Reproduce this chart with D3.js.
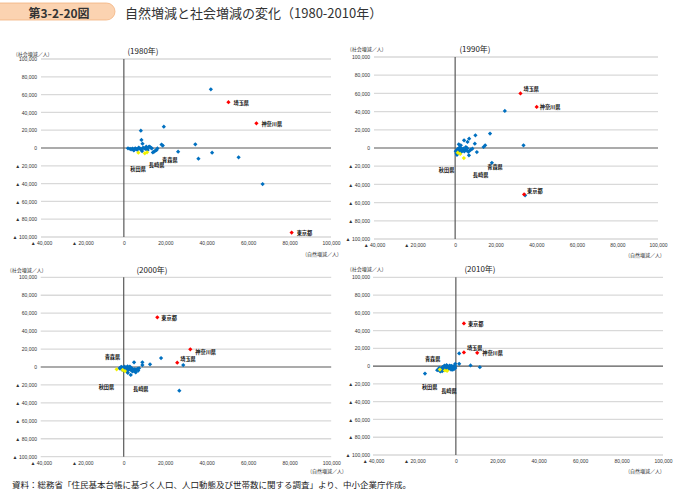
<!DOCTYPE html>
<html>
<head>
<meta charset="utf-8">
<script src="https://cdn.jsdelivr.net/npm/d3@7"></script>
<style>
  body { margin: 0; background: #fff; }
  svg { font-family: "Noto Sans CJK JP", "Noto Sans", sans-serif; }
</style>
</head>
<body>
<svg id="chart" width="674" height="489"></svg>
<script>
// ---- data (自然増減, 社会増減 / 人) ----
const years = ["(1980年)", "(1990年)", "(2000年)", "(2010年)"];
const xTicks = [-40000, -20000, 0, 20000, 40000, 60000, 80000, 100000];
const yTicks = [-100000, -80000, -60000, -40000, -20000, 0, 20000, 40000, 60000, 80000, 100000];

const blue1980 = [
  [42000,66000],[19300,24000],[8200,19500],[8500,9000],[9000,4800],[34500,4100],[18200,3900],
  [18800,2800],[26200,-4100],[36000,-12000],[42600,-5300],[55400,-10500],[67000,-40500],
  [2000,-300],[3000,-900],[3500,-1500],[4200,-700],[4800,-2800],[5500,-400],[6000,-1200],
  [6500,-2000],[7200,500],[7800,-800],[8300,-1600],[8800,-3500],[9300,300],[9800,-400],
  [10500,-1000],[10800,1500],[11500,-2200],[12000,1200],[12500,1500],[13000,300],[13500,-300],
  [14000,-5000],[14600,-4000],[15200,-3000],[15800,-2300],[16200,-500],[5000,-1800],[11000,-300]
];
const red1980 = [["埼玉県",50500,51500],["神奈川県",64000,27800],["東京都",81000,-95000]];
const yellow1980 = [["青森県",11200,-4800],["長崎県",10100,-6000],["秋田県",7000,-5300]];

const blue1990 = [
  [24500,40700],[17200,15800],[10000,14000],[6900,10300],[6100,6600],[9700,4800],[2800,3000],
  [14800,3000],[14000,1100],[33700,3000],[34500,-52000],[18100,-16300],[10700,-4400],[6800,-8000],
  [5300,1100],[7700,-1800],[8500,-700],[4400,8500],[1800,4100],
  [300,-3500],[800,-2800],[1200,-1500],[1600,-800],[2000,-2200],[2400,-3000],[2800,-1200],
  [3200,-600],[3600,-2500],[4000,-1800],[4500,-3800],[5000,-1000],[5500,-2600],[6000,-300],
  [6500,-4200],[7200,-2800],[600,-5500],[1400,-4000],[3000,-4500],[4200,-600],[2100,300],[900,-7500]
];
const red1990 = [["埼玉県",32200,59900],["神奈川県",40200,45100],["東京都",34000,-51000]];
const yellow1990 = [["青森県",2500,-6500],["長崎県",4300,-11000],["秋田県",1300,-5100]];

const blue2000 = [
  [18000,10000],[28700,2200],[26800,-26400],[12700,3000],[9000,5200],[9000,2200],[5000,5200],
  [7400,-1500],[3400,-8900],
  [-2000,-1500],[-1500,-500],[-1000,200],[-600,-1200],[-200,-800],[200,-2000],[500,300],
  [800,-1000],[1000,-2800],[1300,-400],[1600,-1800],[1900,600],[2200,-1200],[2500,-3000],
  [2800,-500],[3100,-2200],[3400,-1000],[3700,-3800],[4000,-1600],[4300,-5000],[4600,-3000],
  [5000,-4200],[5400,-2400],[5800,-6000],[6200,-3500],[6600,-2000],[7000,-4000],[300,-4000],
  [1500,-5000],[2000,-6500],[-800,-3000],[3000,500]
];
const red2000 = [["東京都",16200,55400],["神奈川県",32100,19700],["埼玉県",25800,4800]];
const yellow2000 = [["青森県",-500,-3300],["長崎県",600,-4500],["秋田県",-3400,-2600]];

const blue2010 = [
  [1600,14300],[1600,2600],[-300,2600],[7100,800],[11600,-1100],[-14900,-8300],[-8500,-3800],
  [-6600,-5600],
  [-9000,-4500],[-8000,-2000],[-7500,-6000],[-7000,-3000],[-6500,-1500],[-6200,-4200],[-5800,-2500],
  [-5500,500],[-5200,-3500],[-5000,-1000],[-4700,-2200],[-4400,-4500],[-4100,300],[-3800,-1800],
  [-3500,-3000],[-3200,-500],[-2900,-2500],[-2600,-1200],[-2300,-3800],[-2000,-800],[-1700,-2000],
  [-1400,-300],[-1100,-1500],[-800,-3000],[-500,-800],[-300,-2000],[-6000,-500],[-4500,1100],
  [-3000,700],[-2200,400],[-1500,-4000],[-7800,-4800],[-600,600]
];
const red2010 = [["東京都",3900,48100],["埼玉県",3900,15400],["神奈川県",10300,15000]];
const yellow2010 = [["青森県",-5300,-4900],["長崎県",-4200,-5300],["秋田県",-7700,-3800]];

// ---- layout for the four panels ----
const panels = [
  { title: years[0], blue: blue1980, red: red1980, yellow: yellow1980,
    xr: [41, 331], yr: [59, 237], tpos: [143, 50], ylab: [16, 53], yTickX: 37, xTickY: 244.5, xlab: [322, 253],
    off: { "埼玉県": [5, 0], "神奈川県": [5, 0], "東京都": [5, 0], "青森県": [15, 7], "長崎県": [4, 11], "秋田県": [-8, 16] } },
  { title: years[1], blue: blue1990, red: red1990, yellow: yellow1990,
    xr: [374, 658], yr: [57, 239], tpos: [475, 48], ylab: [350, 48], yTickX: 370, xTickY: 246, xlab: [645, 254],
    off: { "埼玉県": [3, -5], "神奈川県": [3, 0], "東京都": [3, -4], "青森県": [27, 13], "長崎県": [9, 16], "秋田県": [-19, 17] } },
  { title: years[2], blue: blue2000, red: red2000, yellow: yellow2000,
    xr: [40.7, 331.2], yr: [277.3, 456.7], tpos: [152, 269], ylab: [10, 269], yTickX: 37, xTickY: 464, xlab: [327, 470],
    off: { "東京都": [4, 0], "神奈川県": [5, 2], "埼玉県": [3, -4], "青森県": [-18, -13], "長崎県": [8, 17], "秋田県": [-18, 17] } },
  { title: years[3], blue: blue2010, red: red2010, yellow: yellow2010,
    xr: [373, 663], yr: [277.3, 455], tpos: [480, 268], ylab: [350, 268], yTickX: 370, xTickY: 462, xlab: [645, 470],
    off: { "東京都": [4, 0], "埼玉県": [3, -5], "神奈川県": [5, 0], "青森県": [-20, -12], "長崎県": [-6, 20], "秋田県": [-18, 17] } }
];

const svg = d3.select("#chart");
const fmt = v => v < 0 ? "▲ " + d3.format(",")(-v) : d3.format(",")(v);
const diamond = d3.symbol().type(d3.symbolSquare).size(9);

// ---- header ----
svg.append("rect").attr("x", -12).attr("y", 3).attr("width", 127).attr("height", 17).attr("rx", 8.5)
  .attr("fill", "#fbd3b1").attr("stroke", "#f2b27f").attr("stroke-width", 0.8);
svg.append("text").attr("x", 59).attr("y", 12).attr("text-anchor", "middle").attr("dominant-baseline", "central")
  .attr("font-size", 12).attr("font-weight", 700).attr("fill", "#333").text("第3-2-20図");
svg.append("text").attr("x", 125).attr("y", 12).attr("dominant-baseline", "central")
  .attr("font-size", 13).attr("fill", "#333").text("自然増減と社会増減の変化（1980-2010年）");

// ---- panels ----
panels.forEach(p => {
  const x = d3.scaleLinear().domain([-40000, 100000]).range(p.xr);
  const y = d3.scaleLinear().domain([-100000, 100000]).range([p.yr[1], p.yr[0]]);
  const g = svg.append("g");

  // gridlines
  g.selectAll("line.grid").data(yTicks.filter(d => d !== 0)).enter().append("line")
    .attr("x1", x(-40000)).attr("x2", x(100000))
    .attr("y1", d => y(d)).attr("y2", d => y(d))
    .attr("stroke", "#d9d9d9").attr("stroke-width", 1.3);

  // zero lines
  g.append("line").attr("x1", x(-40000)).attr("x2", x(100000)).attr("y1", y(0)).attr("y2", y(0))
    .attr("stroke", "#595959").attr("stroke-width", 1.2);
  g.append("line").attr("x1", x(0)).attr("x2", x(0)).attr("y1", y(100000)).attr("y2", y(-100000))
    .attr("stroke", "#595959").attr("stroke-width", 1.2);

  // axes labels
  const ya = g.append("g").attr("transform", `translate(${p.yTickX},0)`)
    .call(d3.axisLeft(y).tickValues(yTicks).tickFormat(fmt).tickSize(0).tickPadding(0));
  ya.select(".domain").remove();
  ya.selectAll("text").attr("font-size", 5).attr("fill", "#333").attr("font-family", "Arial, 'Liberation Sans', sans-serif");

  const xa = g.append("g").attr("transform", `translate(0,${p.xTickY - 3})`)
    .call(d3.axisBottom(x).tickValues(xTicks).tickFormat(fmt).tickSize(0).tickPadding(0));
  xa.select(".domain").remove();
  xa.selectAll("text").attr("font-size", 5).attr("fill", "#333").attr("font-family", "Arial, 'Liberation Sans', sans-serif");

  // titles
  g.append("text").attr("x", p.tpos[0]).attr("y", p.tpos[1]).attr("text-anchor", "middle")
    .attr("dominant-baseline", "central").attr("font-size", 8).attr("fill", "#222").text(p.title);
  g.append("text").attr("x", p.ylab[0]).attr("y", p.ylab[1]).attr("dominant-baseline", "central")
    .attr("font-size", 5).attr("fill", "#333").text("(社会増減／人)");
  g.append("text").attr("x", p.xlab[0]).attr("y", p.xlab[1]).attr("text-anchor", "middle")
    .attr("dominant-baseline", "central").attr("font-size", 5).attr("fill", "#333").text("(自然増減／人)");

  // points
  g.selectAll("path.blue").data(p.blue).enter().append("path")
    .attr("d", diamond)
    .attr("transform", d => `translate(${x(d[0])},${y(d[1])}) rotate(45)`)
    .attr("fill", "#0070c0");
  g.selectAll("path.yel").data(p.yellow).enter().append("path")
    .attr("d", diamond)
    .attr("transform", d => `translate(${x(d[1])},${y(d[2])}) rotate(45)`)
    .attr("fill", "#f2f200");
  g.selectAll("path.red").data(p.red).enter().append("path")
    .attr("d", diamond)
    .attr("transform", d => `translate(${x(d[1])},${y(d[2])}) rotate(45)`)
    .attr("fill", "#ff0000");

  // data labels
  g.selectAll("text.lab").data(p.red.concat(p.yellow)).enter().append("text")
    .attr("x", d => x(d[1]) + p.off[d[0]][0])
    .attr("y", d => y(d[2]) + p.off[d[0]][1])
    .attr("dominant-baseline", "central")
    .attr("font-size", 5.2).attr("font-weight", 700).attr("fill", "#111")
    .text(d => d[0]);
});

// ---- source ----
svg.append("text").attr("x", 12).attr("y", 484).attr("dominant-baseline", "central")
  .attr("font-size", 8.5).attr("fill", "#222")
  .text("資料：総務省「住民基本台帳に基づく人口、人口動態及び世帯数に関する調査」より、中小企業庁作成。");
</script>
</body>
</html>
